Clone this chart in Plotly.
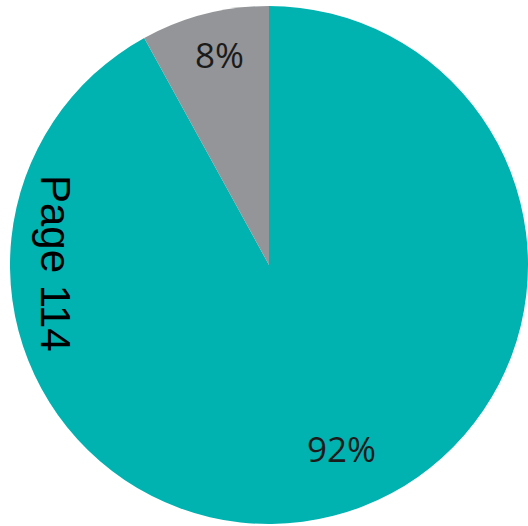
import plotly.graph_objects as go

# Share of responses
categories = ["Yes", "No"]
values = [92, 8]
colors = ["#00B2B0", "#939598"]

W, H = 528, 526
cx, cy, r = 269, 265, 259  # pie centre / radius in pixels

fig = go.Figure(
    go.Pie(
        labels=categories,
        values=values,
        sort=False,
        direction="clockwise",
        rotation=0,
        marker=dict(colors=colors, line=dict(width=0)),
        textinfo="none",
        hoverinfo="label+percent",
        showlegend=False,
        domain=dict(
            x=[(cx - r) / W, min(1.0, (cx + r) / W)],
            y=[(H - cy - r) / H, (H - cy + r) / H],
        ),
    )
)

total = sum(values)
pct_labels = [f"{round(v / total * 100)}%" for v in values]
# label anchor points (pixels)
label_pos = [(341, 448), (219, 55)]
for txt, (px, py) in zip(pct_labels, label_pos):
    fig.add_annotation(
        x=px / W, y=1 - py / H, xref="paper", yref="paper",
        text=txt, showarrow=False,
        font=dict(family="Open Sans", size=35, color="#1b1b1b"),
        xanchor="center", yanchor="middle",
    )

fig.add_annotation(
    x=56 / W, y=1 - 263 / H, xref="paper", yref="paper",
    text="Page 114", showarrow=False, textangle=90,
    font=dict(family="Liberation Sans", size=42, color="#000000"),
    xanchor="center", yanchor="middle",
)

fig.update_layout(
    width=W, height=H,
    margin=dict(l=0, r=0, t=0, b=0),
    paper_bgcolor="white",
    plot_bgcolor="white",
)

fig.write_html("out.html")
